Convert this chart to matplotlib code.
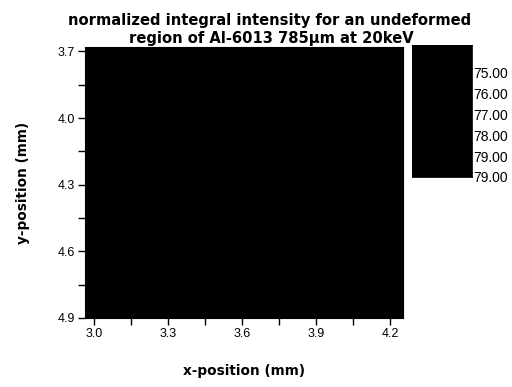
import numpy as np
import matplotlib
matplotlib.use("Agg")
import matplotlib.pyplot as plt
from matplotlib.colors import ListedColormap

# Data: scan positions (mm) and normalized integral intensity (all saturated -> black)
x_pos = [3.0, 3.15, 3.3, 3.45, 3.6, 3.75, 3.9, 4.05, 4.2]
y_pos = [3.7, 3.85, 4.0, 4.15, 4.3, 4.45, 4.6, 4.75, 4.9]
intensity = [
    [79.0, 79.0, 79.0, 79.0, 79.0, 79.0, 79.0, 79.0, 79.0],
    [79.0, 79.0, 79.0, 79.0, 79.0, 79.0, 79.0, 79.0, 79.0],
    [79.0, 79.0, 79.0, 79.0, 79.0, 79.0, 79.0, 79.0, 79.0],
    [79.0, 79.0, 79.0, 79.0, 79.0, 79.0, 79.0, 79.0, 79.0],
    [79.0, 79.0, 79.0, 79.0, 79.0, 79.0, 79.0, 79.0, 79.0],
    [79.0, 79.0, 79.0, 79.0, 79.0, 79.0, 79.0, 79.0, 79.0],
    [79.0, 79.0, 79.0, 79.0, 79.0, 79.0, 79.0, 79.0, 79.0],
    [79.0, 79.0, 79.0, 79.0, 79.0, 79.0, 79.0, 79.0, 79.0],
    [79.0, 79.0, 79.0, 79.0, 79.0, 79.0, 79.0, 79.0, 79.0],
]
x_ticks = [3.0, 3.3, 3.6, 3.9, 4.2]
y_ticks = [3.7, 4.0, 4.3, 4.6, 4.9]
cbar_labels = ["75.00", "76.00", "77.00", "78.00", "79.00", "79.00"]

plt.rcParams['font.family'] = ['Liberation Sans', 'DejaVu Sans']

fig = plt.figure(figsize=(5.12, 3.87), dpi=100)
W, H = 512, 387

def rect(l, t, r, b):
    return [l / W, 1 - b / H, (r - l) / W, (b - t) / H]

cmap = ListedColormap(['black'])
bold_font = dict(family='DejaVu Sans', fontweight='bold')

ax = fig.add_axes(rect(85, 47, 403, 318))
ax.pcolormesh(x_pos, y_pos, np.array(intensity), cmap=cmap, shading='nearest')
ax.set_xlim(2.964, 4.253)
ax.set_ylim(4.9, 3.68)
ax.set_xticks(x_ticks)
ax.set_xticklabels([f"{v:.1f}" for v in x_ticks])
ax.set_yticks(y_ticks)
ax.set_yticklabels([f"{v:.1f}" for v in y_ticks])
ax.set_xticks([(a + b) / 2 for a, b in zip(x_ticks[:-1], x_ticks[1:])], minor=True)
ax.set_yticks([(a + b) / 2 for a, b in zip(y_ticks[:-1], y_ticks[1:])], minor=True)
ax.tick_params(which='both', direction='out', length=5, width=1, labelsize=9, pad=2)
for s in ax.spines.values():
    s.set_linewidth(0.8)
ax.set_xlabel("x-position (mm)", fontsize=9.8, **bold_font)
ax.set_ylabel("y-position (mm)", fontsize=9.8, **bold_font)
ax.xaxis.set_label_coords(0.5, (318 - 364) / 271)
ax.yaxis.set_label_coords((30 - 85) / 318, 0.5)

title_lines = ["normalized integral intensity for an undeformed",
               "region of Al-6013 785µm at 20keV"]
fig.text(270 / W, 1 - 25 / H, title_lines[0], ha='center', va='baseline',
         fontsize=10.6, **bold_font)
fig.text(271 / W, 1 - 43 / H, title_lines[1], ha='center', va='baseline',
         fontsize=10.6, **bold_font)

cax = fig.add_axes(rect(412, 45, 472, 177))
n = len(cbar_labels)
ylo, yhi = 5.0, -1.29
cax.pcolormesh([0, 1], [yhi, ylo], np.array([[79.0]]), cmap=cmap, shading='flat')
cax.set_xlim(0, 1)
cax.set_ylim(ylo, yhi)
cax.set_xticks([])
cax.yaxis.tick_right()
cax.set_yticks(list(range(n)))
cax.set_yticklabels(cbar_labels)
cax.tick_params(length=0, labelsize=10, pad=1)
for s in cax.spines.values():
    s.set_linewidth(0.6)

fig.savefig("out.png", dpi=100)
